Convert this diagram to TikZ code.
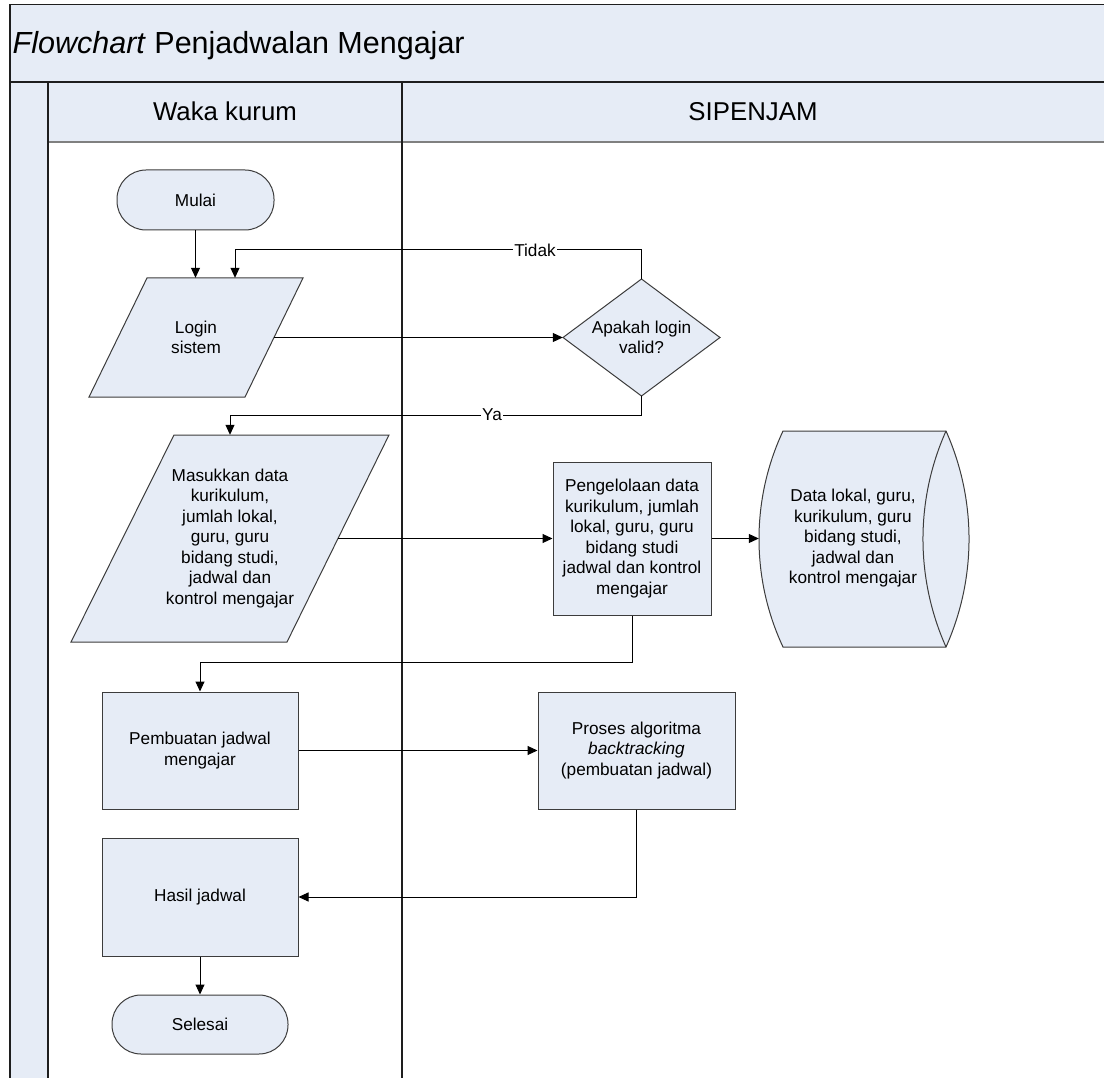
\documentclass[tikz,border=0pt]{standalone}
\usepackage{fontspec}
\setmainfont{Liberation Sans}
\usetikzlibrary{arrows.meta}
\definecolor{shapefill}{RGB}{230,236,246}
\definecolor{shapeedge}{RGB}{60,60,60}
\definecolor{framecol}{RGB}{30,30,30}
\begin{document}
\begin{tikzpicture}[x=1pt,y=-1pt,
  txt/.style={font=\fontsize{17.2}{20.5}\selectfont, align=center, text=black, inner sep=0pt},
  procbox/.style={txt, draw=shapeedge, fill=shapefill, line width=1pt},
  termbox/.style={procbox, rounded corners=29pt},
  shapeline/.style={draw=shapeedge, fill=shapefill, line width=1pt},
  flow/.style={draw=black, line width=1pt, -{Triangle[length=10pt,width=9pt]}},
  lbl/.style={txt, fill=white, inner sep=1.5pt},
  frame/.style={draw=framecol, line width=1.5pt},
  lanehead/.style={font=\fontsize{25.8}{30}\selectfont, anchor=base}]
\useasboundingbox (0,0) rectangle (1104,1078);

% swimlane pool
\fill[shapefill] (10,4.7) rectangle (1104,82);
\fill[shapefill] (48,82) rectangle (1104,142);
\fill[shapefill] (10,82) rectangle (48,1078);
\draw[gray, line width=1.3pt] (48,142) -- (1104,142);
\draw[frame] (1104,4.7) -- (10,4.7) -- (10,1078);
\draw[frame] (10,82) -- (1104,82);
\draw[frame] (48,82) -- (48,1078);
\draw[frame, line width=1.2pt] (402,82) -- (402,1078);

\node[font=\fontsize{30.5}{36}\selectfont, anchor=base west, inner sep=0pt] (title) at (12.5,53.5)
  {\textit{Flowchart} Penjadwalan Mengajar};
\node[lanehead] (lane1) at (225,120.5) {Waka kurum};
\node[lanehead] (lane2) at (753,120.5) {SIPENJAM};

% shape outlines drawn by hand
\path[shapeline] (147,278) -- (303,278) -- (245,397) -- (89,397) -- cycle;
\path[shapeline] (174,435) -- (389,435) -- (287,642) -- (71,642) -- cycle;
\path[shapeline] (563,337.5) -- (641.5,279) -- (720,337.5) -- (641.5,396) -- cycle;
% horizontal cylinder (stored data): circular end arcs
\path[shapeline] (783,431) -- (946,431)
  .. controls (976.7,499.8) and (976.7,578.2) .. (946,647)
  -- (783,647)
  .. controls (751,578.6) and (751,499.4) .. (783,431) -- cycle;
\draw[shapeedge, line width=1pt] (946,431) .. controls (915.3,499.8) and (915.3,578.2) .. (946,647);

% nodes
\node[termbox, minimum width=157pt, minimum height=60pt] (mulai) at (195.5,200) {Mulai};
\node[txt, minimum width=156pt, minimum height=119pt] (login) at (196,337.5) {Login\\sistem};
\node[txt, minimum width=157pt, minimum height=117pt] (valid) at (641.5,337.5) {Apakah login\\valid?};
\node[txt, minimum width=216pt, minimum height=207pt] (input) at (230,538.5)
  {Masukkan data\\kurikulum,\\jumlah lokal,\\guru, guru\\bidang studi,\\jadwal dan\\kontrol mengajar};
\node[procbox, minimum width=158pt, minimum height=153pt] (peng) at (632,538.5)
  {Pengelolaan data\\kurikulum, jumlah\\lokal, guru, guru\\bidang studi\\jadwal dan kontrol\\mengajar};
\node[txt, minimum width=188pt, minimum height=216pt] (store) at (853,538.5)
  {Data lokal, guru,\\kurikulum, guru\\bidang studi,\\jadwal dan\\kontrol mengajar};
\node[procbox, minimum width=196pt, minimum height=117pt] (pemb) at (200,750.5)
  {Pembuatan jadwal\\mengajar};
\node[procbox, minimum width=197pt, minimum height=117pt] (proses) at (636.5,750.5)
  {Proses algoritma\\\textit{backtracking}\\(pembuatan jadwal)};
\node[procbox, minimum width=196pt, minimum height=118pt] (hasil) at (200,897) {Hasil jadwal};
\node[termbox, minimum width=176pt, minimum height=59pt] (selesai) at (200,1024.5) {Selesai};

% connectors
\draw[flow] (mulai.south) -- (mulai.south |- login.north);
\draw[flow] (login.east) -- (valid.west);
\draw[flow] (valid.north) -- ++(0,-29) -| ([xshift=39pt]login.north);
\draw[flow] (valid.south) -- ++(0,19) -| (input.north);
\draw[flow] (input.east) -- (peng.west);
\draw[flow] (peng.east) -- (store.west);
\draw[flow] (peng.south) -- ++(0,47) -| (pemb.north);
\draw[flow] (pemb.east) -- (proses.west);
\draw[flow] (proses.south) |- (hasil.east);
\draw[flow] (hasil.south) -- (selesai.north);

\node[lbl] (tidak) at (535,250) {Tidak};
\node[lbl] (ya) at (492,415) {Ya};
\end{tikzpicture}
\end{document}
